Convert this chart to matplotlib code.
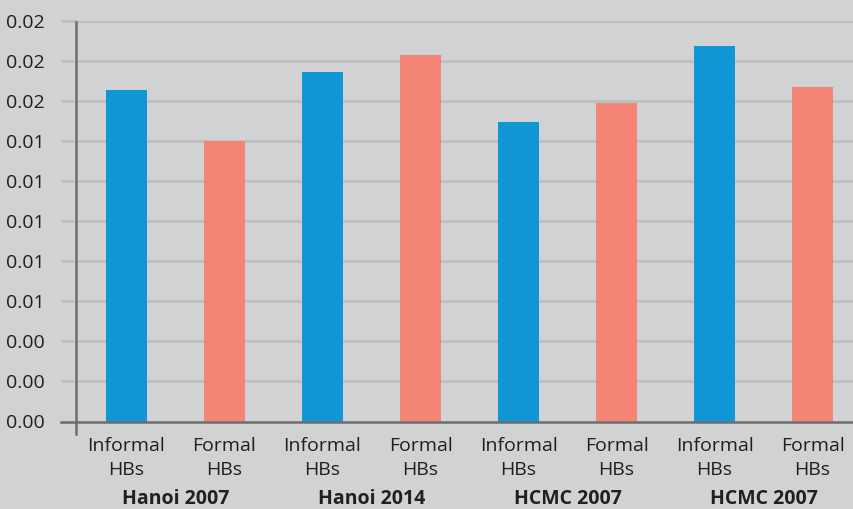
import numpy as np
import matplotlib
matplotlib.use("Agg")
import matplotlib.pyplot as plt
import matplotlib.transforms as mtransforms

plt.rcParams['font.family'] = ['Open Sans', 'DejaVu Sans']

# Data
bar_labels = ["Informal\nHBs", "Formal\nHBs"] * 4
group_labels = ["Hanoi 2007", "Hanoi 2014", "HCMC 2007", "HCMC 2007"]
values = [0.01653, 0.01398, 0.01743, 0.01828, 0.01493, 0.01588, 0.01873, 0.01668]
y_ticks = [0.000, 0.002, 0.004, 0.006, 0.008, 0.010, 0.012, 0.014, 0.016, 0.018, 0.020]

BG = "#d1d2d4"
BLUE = "#1297d6"
SALMON = "#f48576"
GRID = "#bbbcbe"
AXIS = "#6d6e70"
TEXT = "#231f20"

W, H = 854, 509
fig = plt.figure(figsize=(W / 100, H / 100), dpi=100)
fig.patch.set_facecolor(BG)

ax_left, ax_bottom_px, ax_top_px = 76, 421.5, 20.5
ax = fig.add_axes([ax_left / W, (H - ax_bottom_px) / H,
                   1 - ax_left / W, (ax_bottom_px - ax_top_px) / H])
ax.set_facecolor(BG)

x = np.arange(len(values))
colors = [BLUE if i % 2 == 0 else SALMON for i in range(len(values))]
ax.bar(x, values, width=41 / 98, color=colors, zorder=3)

ax.set_xlim(-0.515, 7.423)
ax.set_ylim(0, 0.02)

for s in ax.spines.values():
    s.set_visible(False)

# horizontal grid with outward ticks in the grid colour
ax.set_yticks(y_ticks)
ax.set_yticklabels([f"{v:.2f}" for v in y_ticks])
ax.yaxis.grid(True, color=GRID, linewidth=1.8, zorder=0)
ax.tick_params(axis='y', length=10.8, width=1.8, color=GRID, pad=11.5,
               labelsize=14, labelcolor=TEXT)

ax.set_xticks(x)
ax.set_xticklabels(bar_labels, linespacing=1.4)
ax.tick_params(axis='x', length=0, pad=11.5, labelsize=14, labelcolor=TEXT)

# baseline and vertical axis line
ax.axhline(0, xmin=-15 / 778, xmax=1, color=AXIS, linewidth=1.8,
           clip_on=False, zorder=4)
ax.axvline(-0.515, ymin=-12 / 401, ymax=0.996, color=AXIS, linewidth=1.8,
           clip_on=False, zorder=4)

# group captions under each pair of bars
trans = mtransforms.blended_transform_factory(ax.transData, fig.transFigure)
for i, g in enumerate(group_labels):
    ax.text(2 * i + 0.5, (H - 504) / H, g, transform=trans, ha='center',
            va='baseline', fontsize=14, fontweight='bold', color=TEXT)

fig.savefig("out.png", dpi=100, facecolor=BG)
